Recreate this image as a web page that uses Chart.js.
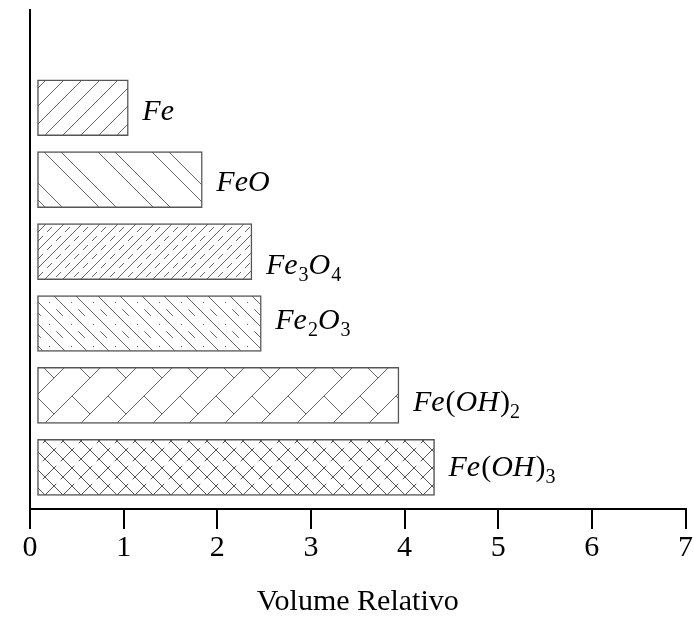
<!DOCTYPE html>
<html>
<head>
<meta charset="utf-8">
<script src="https://cdn.jsdelivr.net/npm/chart.js@4.4.1/dist/chart.umd.min.js"></script>
<style>
  html, body { margin: 0; padding: 0; background: #fff; }
  #wrap { width: 694px; height: 617px; }
</style>
</head>
<body>
<div id="wrap"><canvas id="chart" width="694" height="617"></canvas></div>
<script>
// data
const compounds = ["Fe", "FeO", "Fe3O4", "Fe2O3", "Fe(OH)2", "Fe(OH)3"];
const barStart = [0.08, 0.08, 0.08, 0.08, 0.08, 0.08];
const relVolume = [1.05, 1.84, 2.37, 2.47, 3.94, 4.32];
const xTicks = [0, 1, 2, 3, 4, 5, 6, 7];
const axisTitle = "Volume Relativo";

const canvas = document.getElementById("chart");
const ctx = canvas.getContext("2d");

// ---- hatch patterns ----
function seg(g, x1, y1, x2, y2) {
    g.beginPath();
    g.moveTo(x1, y1);
    g.lineTo(x2, y2);
    g.stroke();
}
// line x + y = c across the tile
function fwd(g, s, c) { seg(g, c + 2, -2, c - s - 2, s + 2); }
// line x - y = c across the tile
function back(g, s, c) { seg(g, c - 2, -2, c + s + 2, s + 2); }
// part of a segment, t0..t1
function part(g, x1, y1, x2, y2, t0, t1) {
    seg(g, x1 + (x2 - x1) * t0, y1 + (y2 - y1) * t0, x1 + (x2 - x1) * t1, y1 + (y2 - y1) * t1);
}

function makePattern(s, draw, color) {
    const c = document.createElement("canvas");
    c.width = s;
    c.height = s;
    const g = c.getContext("2d");
    g.fillStyle = "#fff";
    g.fillRect(0, 0, s, s);
    g.strokeStyle = color || "#666";
    g.lineWidth = 1;
    draw(g, s);
    return ctx.createPattern(c, "repeat");
}

const patterns = [
    // Fe: plain forward hatch
    makePattern(18, (g, s) => { [0, s, 2 * s].forEach(c => fwd(g, s, c)); }),
    // FeO: paired back hatch
    makePattern(54, (g, s) => { [-s, -37, 0, 17, s].forEach(c => back(g, s, c)); }),
    // Fe3O4: forward hatch with dashed lines between
    makePattern(18, (g, s) => {
        [0, s, 2 * s].forEach(c => fwd(g, s, c));
        part(g, 0, s / 2, s / 2, 0, 0.22, 0.78);
        part(g, s / 2, s, s, s / 2, 0.22, 0.78);
    }),
    // Fe2O3: back hatch with dash-dot lines between
    makePattern(22, (g, s) => {
        [-s, 0, s].forEach(c => back(g, s, c));
        part(g, s / 2, 0, s, s / 2, 0.12, 0.72);
        part(g, 0, s / 2, s / 2, s, 0.45, 0.55);
    }),
    // Fe(OH)2: diagonal brick
    makePattern(36, (g, s) => {
        [0, s, 2 * s].forEach(c => fwd(g, s, c));
        seg(g, 0, 0, s / 2, s / 2);
    }),
    // Fe(OH)3: finer mirrored brick, crossing
    makePattern(18, (g, s) => {
        [-s, 0, s].forEach(c => back(g, s, c));
        seg(g, s, 0, 3 * s / 8, 5 * s / 8);
        seg(g, 0, s, s / 8, 7 * s / 8);
    }, "#555")
];

// ---- labels with subscripts next to each bar ----
const labelShift = [12, 11, 22, 6, 16, 9];
const barLabels = {
    id: "barLabels",
    afterDatasetsDraw(chart) {
        const c = chart.ctx;
        const meta = chart.getDatasetMeta(0);
        meta.data.forEach((bar, i) => {
            let x = bar.x + 14;
            const y = bar.y + labelShift[i];
            c.save();
            c.fillStyle = "#000";
            c.textAlign = "left";
            c.textBaseline = "alphabetic";
            compounds[i].match(/[A-Za-z]+|\d+|[()]/g).forEach(p => {
                const isSub = /\d/.test(p);
                const isLetter = /[A-Za-z]/.test(p);
                c.font = isSub ? '20px "Liberation Serif"'
                    : (isLetter ? 'italic 30px "Liberation Serif"' : '30px "Liberation Serif"');
                c.fillText(p, x, isSub ? y + 7 : y);
                x += c.measureText(p).width + (isLetter ? 1 : 0);
            });
            c.restore();
        });
    }
};

new Chart(canvas, {
    type: "bar",
    data: {
        labels: compounds,
        datasets: [{
            data: compounds.map((c, i) => ({ x: [barStart[i], relVolume[i]], y: i })),
            backgroundColor: patterns,
            borderColor: "#555",
            borderWidth: 1.5,
            borderSkipped: false,
            barThickness: 56
        }]
    },
    options: {
        indexAxis: "y",
        responsive: false,
        animation: false,
        devicePixelRatio: 1,
        layout: { padding: { left: 30, right: 8, top: 10, bottom: 0 } },
        plugins: {
            legend: { display: false },
            tooltip: { enabled: false }
        },
        scales: {
            x: {
                type: "linear",
                min: xTicks[0],
                max: xTicks[xTicks.length - 1],
                afterBuildTicks: scale => { scale.ticks = xTicks.map(v => ({ value: v })); },
                afterFit: scale => { scale.height = 108; },
                ticks: {
                    color: "#000",
                    padding: 1,
                    font: { family: "Liberation Serif", size: 30 }
                },
                grid: {
                    drawOnChartArea: false,
                    drawTicks: true,
                    tickLength: 20,
                    color: "#000",
                    lineWidth: 2
                },
                border: { display: true, color: "#000", width: 2 },
                title: {
                    display: true,
                    text: axisTitle,
                    color: "#000",
                    padding: 0,
                    font: { family: "Liberation Serif", size: 30, lineHeight: 1 }
                }
            },
            y: {
                type: "linear",
                reverse: true,
                offset: false,
                min: -1.36,
                max: 5.58,
                afterFit: scale => { scale.width = 0; },
                ticks: { display: false },
                grid: { drawOnChartArea: false, drawTicks: false, offset: false },
                border: { display: true, color: "#000", width: 2 }
            }
        }
    },
    plugins: [barLabels]
});
</script>
</body>
</html>
